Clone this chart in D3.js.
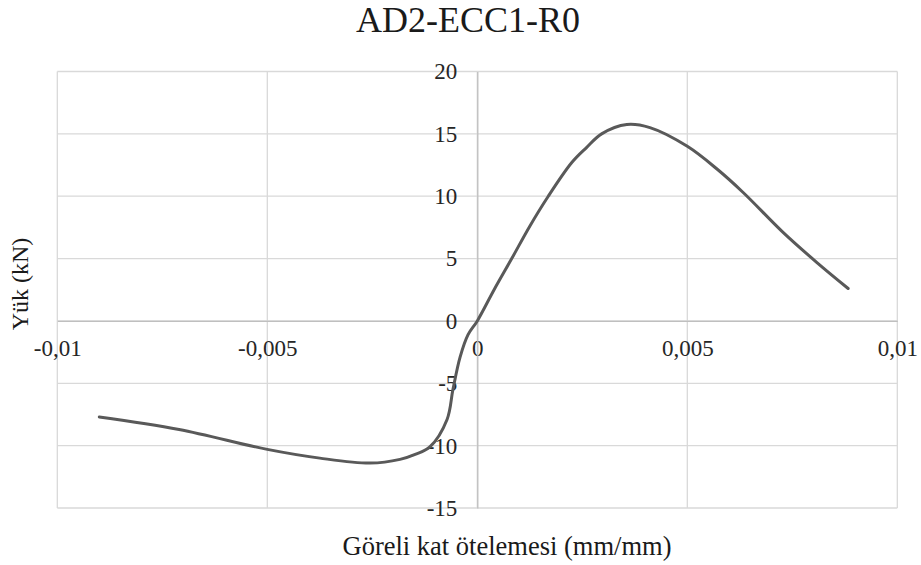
<!DOCTYPE html>
<html>
<head>
<meta charset="utf-8">
<script src="https://cdn.jsdelivr.net/npm/d3@7"></script>
<style>
    body { margin: 0; background: #fff; }
</style>
</head>
<body>
<svg id="chart"></svg>
<script>
// curve: relative drift (mm/mm) and load (kN)
const drift = [-0.0090, -0.0071, -0.0050, -0.00375, -0.00255, -0.00184, -0.00148, -0.00113,
    -0.00072, -0.00058, -0.00041, -0.00022, 0, 0.0004, 0.00082, 0.00125, 0.00169, 0.00225,
    0.0026, 0.00296, 0.00356, 0.00411, 0.0050, 0.0057, 0.00633, 0.00728, 0.00808, 0.00883];
const load = [-7.7, -8.7, -10.3, -11.0, -11.4, -11.1, -10.7, -10.1,
    -7.9, -5.5, -2.9, -1.1, 0, 2.5, 5.0, 7.6, 10.0, 12.7,
    13.9, 15.0, 15.75, 15.5, 14.0, 12.2, 10.3, 7.1, 4.7, 2.6];

const xTicks = [-0.01, -0.005, 0, 0.005, 0.01];
const yTicks = [-15, -10, -5, 0, 5, 10, 15, 20];

const chartTitle = "AD2-ECC1-R0";
const xTitle = "Göreli kat ötelemesi (mm/mm)";
const yTitle = "Yük (kN)";

const serif = "Liberation Serif, Times New Roman, serif";

// dimensions
const width = 921, height = 565;
const plot = { left: 57.3, right: 897.3, top: 71.5, bottom: 508 };

const svg = d3.select("#chart")
    .attr("width", width)
    .attr("height", height);

const xScale = d3.scaleLinear().domain([-0.01, 0.01]).range([plot.left, plot.right]);
const yScale = d3.scaleLinear().domain([-15, 20]).range([plot.bottom, plot.top]);

// gridlines
svg.append("g").selectAll("line")
    .data(yTicks).join("line")
    .attr("x1", plot.left).attr("x2", plot.right)
    .attr("y1", d => yScale(d)).attr("y2", d => yScale(d))
    .attr("stroke", "#d9d9d9").attr("stroke-width", 1.3);

svg.append("g").selectAll("line")
    .data(xTicks).join("line")
    .attr("y1", plot.top).attr("y2", plot.bottom)
    .attr("x1", d => xScale(d)).attr("x2", d => xScale(d))
    .attr("stroke", "#d9d9d9").attr("stroke-width", 1.3);

const fmt = d => String(d).replace(".", ",");

// x axis crossing at y = 0
const xAxis = svg.append("g")
    .attr("transform", `translate(0,${yScale(0)})`)
    .call(d3.axisBottom(xScale).tickValues(xTicks).tickSize(0).tickPadding(19).tickFormat(fmt));
xAxis.select(".domain").attr("stroke", "#bfbfbf").attr("stroke-width", 1.3);
xAxis.selectAll("text")
    .style("font-family", serif)
    .style("font-size", "23px")
    .attr("fill", "#262626");

// y axis crossing at x = 0
const yAxis = svg.append("g")
    .attr("transform", `translate(${xScale(0)},0)`)
    .call(d3.axisLeft(yScale).tickValues(yTicks).tickSize(0).tickPadding(20).tickFormat(fmt));
yAxis.select(".domain").attr("stroke", "#bfbfbf").attr("stroke-width", 1.3);
yAxis.selectAll("text")
    .style("font-family", serif)
    .style("font-size", "23px")
    .attr("fill", "#262626");

// titles
svg.append("text")
    .attr("x", 468).attr("y", 32)
    .attr("text-anchor", "middle")
    .style("font-family", serif)
    .style("font-size", "36px")
    .attr("fill", "#1a1a1a")
    .text(chartTitle);

svg.append("text")
    .attr("x", 507).attr("y", 555)
    .attr("text-anchor", "middle")
    .style("font-family", serif)
    .style("font-size", "26.5px")
    .attr("fill", "#1a1a1a")
    .text(xTitle);

svg.append("text")
    .attr("transform", `translate(28,${284}) rotate(-90)`)
    .attr("text-anchor", "middle")
    .style("font-family", serif)
    .style("font-size", "24px")
    .attr("fill", "#1a1a1a")
    .text(yTitle);

// the curve
const points = drift.map((d, i) => [d, load[i]]);
const line = d3.line()
    .x(d => xScale(d[0]))
    .y(d => yScale(d[1]))
    .curve(d3.curveCatmullRom.alpha(0.5));

svg.append("path")
    .datum(points)
    .attr("d", line)
    .attr("fill", "none")
    .attr("stroke", "#595959")
    .attr("stroke-width", 3)
    .attr("stroke-linecap", "round");
</script>
</body>
</html>
